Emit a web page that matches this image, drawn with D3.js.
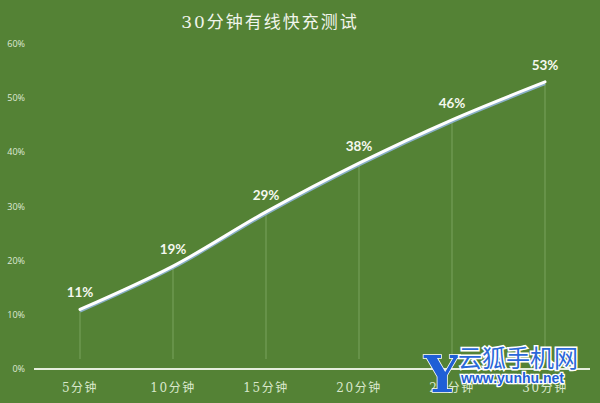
<!DOCTYPE html>
<html><head><meta charset="utf-8">
<script src="https://cdn.jsdelivr.net/npm/d3@7"></script>
<style>html,body{margin:0;padding:0;background:#548235;}svg{display:block;}</style>
</head><body>
<svg id="c" width="600" height="403"></svg>
<script>
const title = "30分钟有线快充测试";
const categories = ["5分钟","10分钟","15分钟","20分钟","25分钟","30分钟"];
const values = [0.11,0.19,0.29,0.38,0.46,0.53];
const yTicks = [0,0.1,0.2,0.3,0.4,0.5,0.6];

const svg = d3.select("#c");
const W = 600, H = 403;
svg.append("rect").attr("width",W).attr("height",H).attr("fill","#548235");

const x = d3.scalePoint().domain(categories).range([80,545]);
const y = d3.scaleLinear().domain([0,0.6]).range([369,44]);
const fmt = d3.format(".0%");

svg.append("text").attr("x",270).attr("y",28).attr("text-anchor","middle")
  .attr("fill","#f1f5ec").attr("font-family","'DejaVu Serif','Noto Sans CJK SC',serif")
  .attr("font-size",17).attr("letter-spacing",2).text(title);

// y labels
svg.append("g").selectAll("text").data(yTicks).join("text")
  .attr("x",25).attr("y",d=>y(d)+3).attr("text-anchor","end")
  .attr("fill","#dfe9d6").attr("font-family","'Open Sans',sans-serif").attr("font-size",9)
  .text(fmt);

// drop lines
svg.append("g").selectAll("line").data(values).join("line")
  .attr("x1",(d,i)=>x(categories[i])).attr("x2",(d,i)=>x(categories[i]))
  .attr("y1",d=>y(d)).attr("y2",y(0)-10)
  .attr("stroke","#a3c98a").attr("stroke-width",0.8).attr("opacity",0.6);

// x axis line
svg.append("line").attr("x1",34).attr("x2",590).attr("y1",y(0)).attr("y2",y(0))
  .attr("stroke","#e6eedd").attr("stroke-width",2);

// x labels
svg.append("g").selectAll("text").data(categories).join("text")
  .attr("x",d=>x(d)).attr("y",392).attr("text-anchor","middle")
  .attr("fill","#d9e8cc").attr("font-family","'DejaVu Serif','Noto Sans CJK SC',serif")
  .attr("font-size",12).attr("letter-spacing",1.5).text(d=>d);

const line = d3.line().x((d,i)=>x(categories[i])).y(d=>y(d)).curve(d3.curveCatmullRom.alpha(0.5));
// shadow
svg.append("path").datum(values).attr("d",line).attr("fill","none")
  .attr("stroke","#8fb4d6").attr("stroke-width",3.2).attr("transform","translate(0,1.6)").attr("opacity",0.9);
svg.append("path").datum(values).attr("d",line).attr("fill","none")
  .attr("stroke","#ffffff").attr("stroke-width",3).attr("stroke-linecap","round");

// data labels
svg.append("g").selectAll("text").data(values).join("text")
  .attr("x",(d,i)=>x(categories[i])).attr("y",d=>y(d)-12).attr("text-anchor","middle")
  .attr("fill","#f4f8ef").attr("font-family","Lato,'Open Sans',sans-serif").attr("font-weight","bold")
  .attr("font-size",13.5).text(fmt);

// watermark
const wm = svg.append("g");
wm.append("text").attr("x",424).attr("y",392).attr("font-family","'DejaVu Serif',serif")
  .attr("font-size",50).attr("font-weight","bold").attr("fill","#1f5fd6")
  .attr("stroke","#ffffff").attr("stroke-width",1.5).attr("paint-order","stroke").text("Y");
wm.append("text").attr("x",458).attr("y",367).attr("font-family","'Noto Sans CJK SC',sans-serif")
  .attr("font-size",24).attr("fill","#2a68d8")
  .attr("stroke","#ffffff").attr("stroke-width",3).attr("paint-order","stroke").text("云狐手机网");
wm.append("text").attr("x",461).attr("y",383).attr("font-family","'Liberation Sans',Arial,sans-serif")
  .attr("font-size",14).attr("font-weight","bold").attr("fill","#1f5fd6")
  .attr("stroke","#ffffff").attr("stroke-width",2.5).attr("paint-order","stroke").text("www.yunhu.net");
</script>
</body></html>
